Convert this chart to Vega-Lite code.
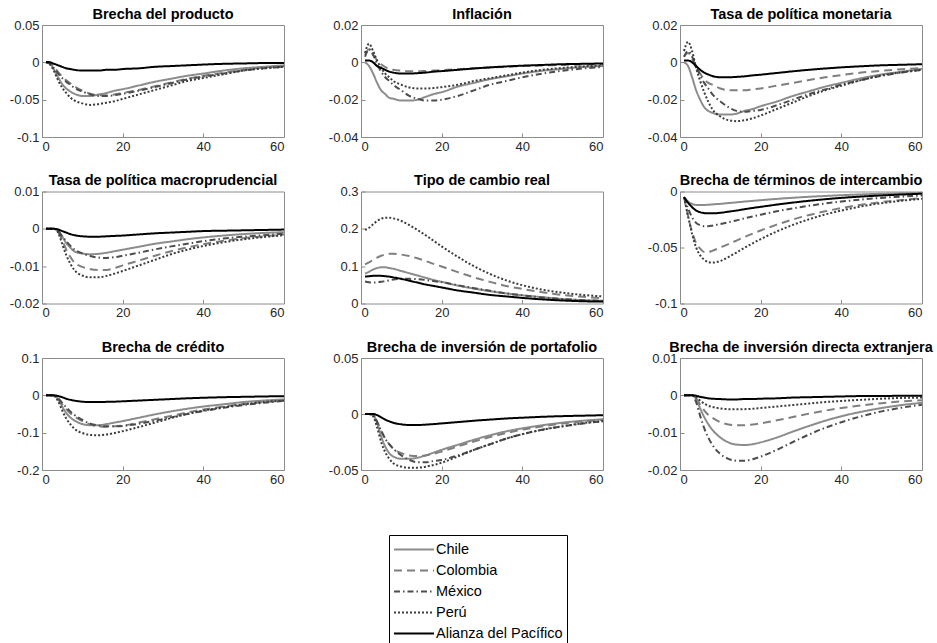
{
"$schema":"https://vega.github.io/schema/vega-lite/v6.json",
"padding":{"left":8,"top":6,"right":2,"bottom":0},
"background":"white",
"datasets":{"d":[
{"p":1,"t":1,"Chile":0,"Colombia":0,"México":0,"Perú":0,"Alianza del Pacífico":0.0005},
{"p":1,"t":2,"Chile":-0.002,"Colombia":-0.001,"México":-0.002,"Perú":-0.003,"Alianza del Pacífico":0},
{"p":1,"t":3,"Chile":-0.01,"Colombia":-0.006,"México":-0.008,"Perú":-0.012,"Alianza del Pacífico":-0.002},
{"p":1,"t":4,"Chile":-0.02,"Colombia":-0.013,"México":-0.015,"Perú":-0.024,"Alianza del Pacífico":-0.004},
{"p":1,"t":5,"Chile":-0.029,"Colombia":-0.019,"México":-0.021,"Perú":-0.034,"Alianza del Pacífico":-0.006},
{"p":1,"t":6,"Chile":-0.035,"Colombia":-0.024,"México":-0.026,"Perú":-0.041,"Alianza del Pacífico":-0.008},
{"p":1,"t":7,"Chile":-0.039,"Colombia":-0.028,"México":-0.03,"Perú":-0.047,"Alianza del Pacífico":-0.009},
{"p":1,"t":8,"Chile":-0.042,"Colombia":-0.032,"México":-0.034,"Perú":-0.051,"Alianza del Pacífico":-0.01},
{"p":1,"t":10,"Chile":-0.045,"Colombia":-0.038,"México":-0.039,"Perú":-0.055,"Alianza del Pacífico":-0.011},
{"p":1,"t":12,"Chile":-0.045,"Colombia":-0.042,"México":-0.043,"Perú":-0.057,"Alianza del Pacífico":-0.011},
{"p":1,"t":14,"Chile":-0.043,"Colombia":-0.044,"México":-0.045,"Perú":-0.056,"Alianza del Pacífico":-0.011},
{"p":1,"t":16,"Chile":-0.041,"Colombia":-0.044,"México":-0.045,"Perú":-0.054,"Alianza del Pacífico":-0.01},
{"p":1,"t":18,"Chile":-0.038,"Colombia":-0.043,"México":-0.044,"Perú":-0.052,"Alianza del Pacífico":-0.01},
{"p":1,"t":20,"Chile":-0.036,"Colombia":-0.041,"México":-0.042,"Perú":-0.049,"Alianza del Pacífico":-0.009},
{"p":1,"t":24,"Chile":-0.031,"Colombia":-0.037,"México":-0.038,"Perú":-0.043,"Alianza del Pacífico":-0.008},
{"p":1,"t":28,"Chile":-0.026,"Colombia":-0.032,"México":-0.033,"Perú":-0.037,"Alianza del Pacífico":-0.006},
{"p":1,"t":32,"Chile":-0.022,"Colombia":-0.027,"México":-0.028,"Perú":-0.031,"Alianza del Pacífico":-0.005},
{"p":1,"t":36,"Chile":-0.018,"Colombia":-0.022,"México":-0.023,"Perú":-0.025,"Alianza del Pacífico":-0.004},
{"p":1,"t":40,"Chile":-0.015,"Colombia":-0.018,"México":-0.019,"Perú":-0.021,"Alianza del Pacífico":-0.003},
{"p":1,"t":45,"Chile":-0.011,"Colombia":-0.014,"México":-0.015,"Perú":-0.016,"Alianza del Pacífico":-0.002},
{"p":1,"t":50,"Chile":-0.008,"Colombia":-0.01,"México":-0.011,"Perú":-0.011,"Alianza del Pacífico":-0.0015},
{"p":1,"t":55,"Chile":-0.006,"Colombia":-0.007,"México":-0.008,"Perú":-0.008,"Alianza del Pacífico":-0.001},
{"p":1,"t":60,"Chile":-0.004,"Colombia":-0.005,"México":-0.006,"Perú":-0.006,"Alianza del Pacífico":-0.001},
{"p":2,"t":1,"Chile":0,"Colombia":0.004,"México":0.003,"Perú":0.005,"Alianza del Pacífico":0.001},
{"p":2,"t":2,"Chile":-0.002,"Colombia":0.007,"México":0.007,"Perú":0.01,"Alianza del Pacífico":0.001},
{"p":2,"t":3,"Chile":-0.006,"Colombia":0.004,"México":0.004,"Perú":0.006,"Alianza del Pacífico":0},
{"p":2,"t":4,"Chile":-0.011,"Colombia":0.001,"México":-0.001,"Perú":0.001,"Alianza del Pacífico":-0.002},
{"p":2,"t":5,"Chile":-0.015,"Colombia":-0.001,"México":-0.005,"Perú":-0.003,"Alianza del Pacífico":-0.003},
{"p":2,"t":6,"Chile":-0.017,"Colombia":-0.0025,"México":-0.008,"Perú":-0.006,"Alianza del Pacífico":-0.004},
{"p":2,"t":7,"Chile":-0.019,"Colombia":-0.0035,"México":-0.01,"Perú":-0.008,"Alianza del Pacífico":-0.005},
{"p":2,"t":8,"Chile":-0.0195,"Colombia":-0.004,"México":-0.012,"Perú":-0.01,"Alianza del Pacífico":-0.0055},
{"p":2,"t":10,"Chile":-0.0205,"Colombia":-0.0045,"México":-0.015,"Perú":-0.012,"Alianza del Pacífico":-0.006},
{"p":2,"t":12,"Chile":-0.0205,"Colombia":-0.0048,"México":-0.018,"Perú":-0.0135,"Alianza del Pacífico":-0.006},
{"p":2,"t":14,"Chile":-0.02,"Colombia":-0.0048,"México":-0.0195,"Perú":-0.014,"Alianza del Pacífico":-0.0058},
{"p":2,"t":16,"Chile":-0.0185,"Colombia":-0.0046,"México":-0.0205,"Perú":-0.014,"Alianza del Pacífico":-0.0055},
{"p":2,"t":18,"Chile":-0.017,"Colombia":-0.0044,"México":-0.0205,"Perú":-0.0138,"Alianza del Pacífico":-0.005},
{"p":2,"t":20,"Chile":-0.016,"Colombia":-0.0042,"México":-0.02,"Perú":-0.0133,"Alianza del Pacífico":-0.0047},
{"p":2,"t":24,"Chile":-0.013,"Colombia":-0.0037,"México":-0.018,"Perú":-0.012,"Alianza del Pacífico":-0.004},
{"p":2,"t":28,"Chile":-0.011,"Colombia":-0.0032,"México":-0.015,"Perú":-0.01,"Alianza del Pacífico":-0.0033},
{"p":2,"t":32,"Chile":-0.009,"Colombia":-0.0028,"México":-0.012,"Perú":-0.0085,"Alianza del Pacífico":-0.0027},
{"p":2,"t":36,"Chile":-0.0075,"Colombia":-0.0024,"México":-0.01,"Perú":-0.007,"Alianza del Pacífico":-0.0022},
{"p":2,"t":40,"Chile":-0.006,"Colombia":-0.002,"México":-0.008,"Perú":-0.0055,"Alianza del Pacífico":-0.0018},
{"p":2,"t":45,"Chile":-0.0045,"Colombia":-0.0017,"México":-0.006,"Perú":-0.004,"Alianza del Pacífico":-0.0014},
{"p":2,"t":50,"Chile":-0.0035,"Colombia":-0.0014,"México":-0.0045,"Perú":-0.003,"Alianza del Pacífico":-0.001},
{"p":2,"t":55,"Chile":-0.0025,"Colombia":-0.0012,"México":-0.0033,"Perú":-0.0022,"Alianza del Pacífico":-0.0008},
{"p":2,"t":60,"Chile":-0.002,"Colombia":-0.001,"México":-0.0025,"Perú":-0.0017,"Alianza del Pacífico":-0.0006},
{"p":3,"t":1,"Chile":0,"Colombia":0.003,"México":0.003,"Perú":0.006,"Alianza del Pacífico":0.001},
{"p":3,"t":2,"Chile":-0.002,"Colombia":0.005,"México":0.006,"Perú":0.011,"Alianza del Pacífico":0.001},
{"p":3,"t":3,"Chile":-0.008,"Colombia":0.002,"México":0.003,"Perú":0.006,"Alianza del Pacífico":0},
{"p":3,"t":4,"Chile":-0.015,"Colombia":-0.003,"México":-0.002,"Perú":-0.003,"Alianza del Pacífico":-0.002},
{"p":3,"t":5,"Chile":-0.02,"Colombia":-0.006,"México":-0.007,"Perú":-0.01,"Alianza del Pacífico":-0.004},
{"p":3,"t":6,"Chile":-0.024,"Colombia":-0.009,"México":-0.011,"Perú":-0.016,"Alianza del Pacífico":-0.0055},
{"p":3,"t":7,"Chile":-0.026,"Colombia":-0.011,"México":-0.014,"Perú":-0.021,"Alianza del Pacífico":-0.0065},
{"p":3,"t":8,"Chile":-0.027,"Colombia":-0.012,"México":-0.017,"Perú":-0.025,"Alianza del Pacífico":-0.0073},
{"p":3,"t":10,"Chile":-0.028,"Colombia":-0.014,"México":-0.021,"Perú":-0.029,"Alianza del Pacífico":-0.008},
{"p":3,"t":12,"Chile":-0.028,"Colombia":-0.015,"México":-0.024,"Perú":-0.031,"Alianza del Pacífico":-0.008},
{"p":3,"t":14,"Chile":-0.0275,"Colombia":-0.015,"México":-0.026,"Perú":-0.0315,"Alianza del Pacífico":-0.0078},
{"p":3,"t":16,"Chile":-0.026,"Colombia":-0.015,"México":-0.0265,"Perú":-0.031,"Alianza del Pacífico":-0.0075},
{"p":3,"t":18,"Chile":-0.025,"Colombia":-0.0145,"México":-0.026,"Perú":-0.03,"Alianza del Pacífico":-0.007},
{"p":3,"t":20,"Chile":-0.0235,"Colombia":-0.014,"México":-0.0255,"Perú":-0.0285,"Alianza del Pacífico":-0.0066},
{"p":3,"t":24,"Chile":-0.021,"Colombia":-0.0125,"México":-0.023,"Perú":-0.025,"Alianza del Pacífico":-0.0057},
{"p":3,"t":28,"Chile":-0.018,"Colombia":-0.011,"México":-0.02,"Perú":-0.0215,"Alianza del Pacífico":-0.0048},
{"p":3,"t":32,"Chile":-0.0155,"Colombia":-0.0095,"México":-0.017,"Perú":-0.018,"Alianza del Pacífico":-0.004},
{"p":3,"t":36,"Chile":-0.013,"Colombia":-0.008,"México":-0.0145,"Perú":-0.015,"Alianza del Pacífico":-0.0033},
{"p":3,"t":40,"Chile":-0.011,"Colombia":-0.0068,"México":-0.012,"Perú":-0.0125,"Alianza del Pacífico":-0.0027},
{"p":3,"t":45,"Chile":-0.0085,"Colombia":-0.0055,"México":-0.0095,"Perú":-0.0095,"Alianza del Pacífico":-0.0021},
{"p":3,"t":50,"Chile":-0.0065,"Colombia":-0.0045,"México":-0.0072,"Perú":-0.007,"Alianza del Pacífico":-0.0016},
{"p":3,"t":55,"Chile":-0.005,"Colombia":-0.0037,"México":-0.0055,"Perú":-0.0053,"Alianza del Pacífico":-0.0013},
{"p":3,"t":60,"Chile":-0.0035,"Colombia":-0.003,"México":-0.004,"Perú":-0.004,"Alianza del Pacífico":-0.001},
{"p":4,"t":1,"Chile":0,"Colombia":0,"México":0,"Perú":0,"Alianza del Pacífico":0},
{"p":4,"t":2,"Chile":0,"Colombia":0,"México":0,"Perú":0,"Alianza del Pacífico":0},
{"p":4,"t":3,"Chile":0,"Colombia":0,"México":0,"Perú":0,"Alianza del Pacífico":0},
{"p":4,"t":4,"Chile":-0.0005,"Colombia":-0.0008,"México":-0.0006,"Perú":-0.001,"Alianza del Pacífico":-0.0002},
{"p":4,"t":5,"Chile":-0.002,"Colombia":-0.003,"México":-0.002,"Perú":-0.004,"Alianza del Pacífico":-0.0006},
{"p":4,"t":6,"Chile":-0.0038,"Colombia":-0.0055,"México":-0.0033,"Perú":-0.007,"Alianza del Pacífico":-0.001},
{"p":4,"t":7,"Chile":-0.005,"Colombia":-0.0075,"México":-0.0045,"Perú":-0.0093,"Alianza del Pacífico":-0.0014},
{"p":4,"t":8,"Chile":-0.006,"Colombia":-0.009,"México":-0.0055,"Perú":-0.011,"Alianza del Pacífico":-0.0017},
{"p":4,"t":10,"Chile":-0.0066,"Colombia":-0.0102,"México":-0.0066,"Perú":-0.0125,"Alianza del Pacífico":-0.002},
{"p":4,"t":12,"Chile":-0.0068,"Colombia":-0.0108,"México":-0.0073,"Perú":-0.013,"Alianza del Pacífico":-0.0021},
{"p":4,"t":14,"Chile":-0.0067,"Colombia":-0.011,"México":-0.0077,"Perú":-0.013,"Alianza del Pacífico":-0.0021},
{"p":4,"t":16,"Chile":-0.0064,"Colombia":-0.011,"México":-0.0078,"Perú":-0.0126,"Alianza del Pacífico":-0.002},
{"p":4,"t":18,"Chile":-0.006,"Colombia":-0.0105,"México":-0.0076,"Perú":-0.012,"Alianza del Pacífico":-0.0019},
{"p":4,"t":20,"Chile":-0.0056,"Colombia":-0.0098,"México":-0.0072,"Perú":-0.0113,"Alianza del Pacífico":-0.0018},
{"p":4,"t":24,"Chile":-0.0048,"Colombia":-0.0085,"México":-0.0064,"Perú":-0.0098,"Alianza del Pacífico":-0.0015},
{"p":4,"t":28,"Chile":-0.004,"Colombia":-0.0072,"México":-0.0055,"Perú":-0.0083,"Alianza del Pacífico":-0.0012},
{"p":4,"t":32,"Chile":-0.0034,"Colombia":-0.006,"México":-0.0047,"Perú":-0.0068,"Alianza del Pacífico":-0.001},
{"p":4,"t":36,"Chile":-0.0028,"Colombia":-0.005,"México":-0.004,"Perú":-0.0056,"Alianza del Pacífico":-0.0008},
{"p":4,"t":40,"Chile":-0.0023,"Colombia":-0.0041,"México":-0.0033,"Perú":-0.0046,"Alianza del Pacífico":-0.0006},
{"p":4,"t":45,"Chile":-0.0018,"Colombia":-0.0032,"México":-0.0026,"Perú":-0.0036,"Alianza del Pacífico":-0.0005},
{"p":4,"t":50,"Chile":-0.0014,"Colombia":-0.0025,"México":-0.0021,"Perú":-0.0028,"Alianza del Pacífico":-0.0004},
{"p":4,"t":55,"Chile":-0.0011,"Colombia":-0.002,"México":-0.0017,"Perú":-0.0022,"Alianza del Pacífico":-0.0003},
{"p":4,"t":60,"Chile":-0.0009,"Colombia":-0.0015,"México":-0.0013,"Perú":-0.0017,"Alianza del Pacífico":-0.0002},
{"p":5,"t":1,"Chile":0.08,"Colombia":0.105,"México":0.059,"Perú":0.197,"Alianza del Pacífico":0.072},
{"p":5,"t":2,"Chile":0.085,"Colombia":0.11,"México":0.057,"Perú":0.203,"Alianza del Pacífico":0.073},
{"p":5,"t":3,"Chile":0.091,"Colombia":0.117,"México":0.056,"Perú":0.212,"Alianza del Pacífico":0.074},
{"p":5,"t":4,"Chile":0.095,"Colombia":0.123,"México":0.057,"Perú":0.221,"Alianza del Pacífico":0.074},
{"p":5,"t":5,"Chile":0.097,"Colombia":0.128,"México":0.058,"Perú":0.227,"Alianza del Pacífico":0.074},
{"p":5,"t":6,"Chile":0.097,"Colombia":0.131,"México":0.06,"Perú":0.23,"Alianza del Pacífico":0.073},
{"p":5,"t":7,"Chile":0.095,"Colombia":0.133,"México":0.062,"Perú":0.23,"Alianza del Pacífico":0.072},
{"p":5,"t":8,"Chile":0.093,"Colombia":0.133,"México":0.064,"Perú":0.228,"Alianza del Pacífico":0.07},
{"p":5,"t":10,"Chile":0.087,"Colombia":0.131,"México":0.066,"Perú":0.221,"Alianza del Pacífico":0.066},
{"p":5,"t":12,"Chile":0.081,"Colombia":0.127,"México":0.066,"Perú":0.21,"Alianza del Pacífico":0.061},
{"p":5,"t":14,"Chile":0.075,"Colombia":0.121,"México":0.065,"Perú":0.197,"Alianza del Pacífico":0.056},
{"p":5,"t":16,"Chile":0.069,"Colombia":0.114,"México":0.063,"Perú":0.183,"Alianza del Pacífico":0.051},
{"p":5,"t":18,"Chile":0.063,"Colombia":0.106,"México":0.06,"Perú":0.168,"Alianza del Pacífico":0.047},
{"p":5,"t":20,"Chile":0.058,"Colombia":0.099,"México":0.057,"Perú":0.153,"Alianza del Pacífico":0.043},
{"p":5,"t":24,"Chile":0.048,"Colombia":0.084,"México":0.049,"Perú":0.125,"Alianza del Pacífico":0.035},
{"p":5,"t":28,"Chile":0.04,"Colombia":0.07,"México":0.041,"Perú":0.1,"Alianza del Pacífico":0.029},
{"p":5,"t":32,"Chile":0.033,"Colombia":0.058,"México":0.034,"Perú":0.079,"Alianza del Pacífico":0.023},
{"p":5,"t":36,"Chile":0.027,"Colombia":0.047,"México":0.027,"Perú":0.062,"Alianza del Pacífico":0.019},
{"p":5,"t":40,"Chile":0.022,"Colombia":0.039,"México":0.022,"Perú":0.049,"Alianza del Pacífico":0.015},
{"p":5,"t":45,"Chile":0.017,"Colombia":0.03,"México":0.016,"Perú":0.037,"Alianza del Pacífico":0.011},
{"p":5,"t":50,"Chile":0.012,"Colombia":0.023,"México":0.012,"Perú":0.029,"Alianza del Pacífico":0.008},
{"p":5,"t":55,"Chile":0.009,"Colombia":0.018,"México":0.009,"Perú":0.023,"Alianza del Pacífico":0.006},
{"p":5,"t":60,"Chile":0.007,"Colombia":0.014,"México":0.007,"Perú":0.019,"Alianza del Pacífico":0.005},
{"p":6,"t":1,"Chile":-0.005,"Colombia":-0.005,"México":-0.005,"Perú":-0.005,"Alianza del Pacífico":-0.005},
{"p":6,"t":2,"Chile":-0.009,"Colombia":-0.022,"México":-0.015,"Perú":-0.022,"Alianza del Pacífico":-0.01},
{"p":6,"t":3,"Chile":-0.011,"Colombia":-0.036,"México":-0.023,"Perú":-0.038,"Alianza del Pacífico":-0.014},
{"p":6,"t":4,"Chile":-0.012,"Colombia":-0.046,"México":-0.028,"Perú":-0.05,"Alianza del Pacífico":-0.017},
{"p":6,"t":5,"Chile":-0.012,"Colombia":-0.051,"México":-0.03,"Perú":-0.057,"Alianza del Pacífico":-0.0185},
{"p":6,"t":6,"Chile":-0.012,"Colombia":-0.054,"México":-0.031,"Perú":-0.061,"Alianza del Pacífico":-0.0193},
{"p":6,"t":7,"Chile":-0.0118,"Colombia":-0.054,"México":-0.031,"Perú":-0.063,"Alianza del Pacífico":-0.0195},
{"p":6,"t":8,"Chile":-0.0115,"Colombia":-0.053,"México":-0.0305,"Perú":-0.0635,"Alianza del Pacífico":-0.0195},
{"p":6,"t":10,"Chile":-0.011,"Colombia":-0.05,"México":-0.029,"Perú":-0.062,"Alianza del Pacífico":-0.019},
{"p":6,"t":12,"Chile":-0.0103,"Colombia":-0.047,"México":-0.0275,"Perú":-0.0585,"Alianza del Pacífico":-0.018},
{"p":6,"t":14,"Chile":-0.0097,"Colombia":-0.0438,"México":-0.0258,"Perú":-0.0545,"Alianza del Pacífico":-0.017},
{"p":6,"t":16,"Chile":-0.009,"Colombia":-0.0406,"México":-0.024,"Perú":-0.0503,"Alianza del Pacífico":-0.0158},
{"p":6,"t":18,"Chile":-0.0084,"Colombia":-0.0376,"México":-0.0223,"Perú":-0.0463,"Alianza del Pacífico":-0.0147},
{"p":6,"t":20,"Chile":-0.0078,"Colombia":-0.0348,"México":-0.0207,"Perú":-0.0425,"Alianza del Pacífico":-0.0137},
{"p":6,"t":24,"Chile":-0.0066,"Colombia":-0.0296,"México":-0.0177,"Perú":-0.0357,"Alianza del Pacífico":-0.0117},
{"p":6,"t":28,"Chile":-0.0056,"Colombia":-0.025,"México":-0.015,"Perú":-0.0298,"Alianza del Pacífico":-0.0099},
{"p":6,"t":32,"Chile":-0.0047,"Colombia":-0.021,"México":-0.0127,"Perú":-0.0248,"Alianza del Pacífico":-0.0083},
{"p":6,"t":36,"Chile":-0.004,"Colombia":-0.0177,"México":-0.0107,"Perú":-0.0205,"Alianza del Pacífico":-0.0069},
{"p":6,"t":40,"Chile":-0.0033,"Colombia":-0.0148,"México":-0.009,"Perú":-0.017,"Alianza del Pacífico":-0.0057},
{"p":6,"t":45,"Chile":-0.0026,"Colombia":-0.0118,"México":-0.0072,"Perú":-0.0133,"Alianza del Pacífico":-0.0045},
{"p":6,"t":50,"Chile":-0.002,"Colombia":-0.0094,"México":-0.0057,"Perú":-0.0104,"Alianza del Pacífico":-0.0035},
{"p":6,"t":55,"Chile":-0.0016,"Colombia":-0.0075,"México":-0.0045,"Perú":-0.0082,"Alianza del Pacífico":-0.0027},
{"p":6,"t":60,"Chile":-0.0012,"Colombia":-0.006,"México":-0.0036,"Perú":-0.0065,"Alianza del Pacífico":-0.002},
{"p":7,"t":1,"Chile":0,"Colombia":0,"México":0,"Perú":0,"Alianza del Pacífico":0},
{"p":7,"t":2,"Chile":0,"Colombia":0,"México":0,"Perú":0,"Alianza del Pacífico":0},
{"p":7,"t":3,"Chile":-0.001,"Colombia":-0.001,"México":-0.001,"Perú":-0.002,"Alianza del Pacífico":0},
{"p":7,"t":4,"Chile":-0.01,"Colombia":-0.01,"México":-0.008,"Perú":-0.016,"Alianza del Pacífico":-0.002},
{"p":7,"t":5,"Chile":-0.03,"Colombia":-0.024,"México":-0.02,"Perú":-0.04,"Alianza del Pacífico":-0.005},
{"p":7,"t":6,"Chile":-0.047,"Colombia":-0.037,"México":-0.032,"Perú":-0.062,"Alianza del Pacífico":-0.009},
{"p":7,"t":7,"Chile":-0.059,"Colombia":-0.048,"México":-0.043,"Perú":-0.077,"Alianza del Pacífico":-0.012},
{"p":7,"t":8,"Chile":-0.067,"Colombia":-0.056,"México":-0.052,"Perú":-0.089,"Alianza del Pacífico":-0.014},
{"p":7,"t":10,"Chile":-0.077,"Colombia":-0.069,"México":-0.066,"Perú":-0.101,"Alianza del Pacífico":-0.017},
{"p":7,"t":12,"Chile":-0.08,"Colombia":-0.078,"México":-0.076,"Perú":-0.106,"Alianza del Pacífico":-0.018},
{"p":7,"t":14,"Chile":-0.08,"Colombia":-0.083,"México":-0.081,"Perú":-0.107,"Alianza del Pacífico":-0.018},
{"p":7,"t":16,"Chile":-0.077,"Colombia":-0.084,"México":-0.083,"Perú":-0.105,"Alianza del Pacífico":-0.0175},
{"p":7,"t":18,"Chile":-0.073,"Colombia":-0.083,"México":-0.083,"Perú":-0.101,"Alianza del Pacífico":-0.017},
{"p":7,"t":20,"Chile":-0.069,"Colombia":-0.081,"México":-0.082,"Perú":-0.096,"Alianza del Pacífico":-0.016},
{"p":7,"t":24,"Chile":-0.06,"Colombia":-0.073,"México":-0.076,"Perú":-0.085,"Alianza del Pacífico":-0.014},
{"p":7,"t":28,"Chile":-0.051,"Colombia":-0.064,"México":-0.068,"Perú":-0.073,"Alianza del Pacífico":-0.012},
{"p":7,"t":32,"Chile":-0.043,"Colombia":-0.055,"México":-0.059,"Perú":-0.061,"Alianza del Pacífico":-0.01},
{"p":7,"t":36,"Chile":-0.036,"Colombia":-0.046,"México":-0.05,"Perú":-0.05,"Alianza del Pacífico":-0.008},
{"p":7,"t":40,"Chile":-0.03,"Colombia":-0.038,"México":-0.042,"Perú":-0.041,"Alianza del Pacífico":-0.0065},
{"p":7,"t":45,"Chile":-0.024,"Colombia":-0.03,"México":-0.033,"Perú":-0.032,"Alianza del Pacífico":-0.005},
{"p":7,"t":50,"Chile":-0.018,"Colombia":-0.023,"México":-0.026,"Perú":-0.024,"Alianza del Pacífico":-0.004},
{"p":7,"t":55,"Chile":-0.014,"Colombia":-0.018,"México":-0.02,"Perú":-0.018,"Alianza del Pacífico":-0.003},
{"p":7,"t":60,"Chile":-0.011,"Colombia":-0.014,"México":-0.015,"Perú":-0.014,"Alianza del Pacífico":-0.0022},
{"p":8,"t":1,"Chile":0,"Colombia":0,"México":0,"Perú":0,"Alianza del Pacífico":0},
{"p":8,"t":2,"Chile":0,"Colombia":0,"México":0,"Perú":0,"Alianza del Pacífico":0},
{"p":8,"t":3,"Chile":-0.001,"Colombia":-0.001,"México":-0.001,"Perú":-0.002,"Alianza del Pacífico":0},
{"p":8,"t":4,"Chile":-0.008,"Colombia":-0.007,"México":-0.007,"Perú":-0.012,"Alianza del Pacífico":-0.001},
{"p":8,"t":5,"Chile":-0.02,"Colombia":-0.015,"México":-0.015,"Perú":-0.025,"Alianza del Pacífico":-0.003},
{"p":8,"t":6,"Chile":-0.029,"Colombia":-0.022,"México":-0.022,"Perú":-0.034,"Alianza del Pacífico":-0.005},
{"p":8,"t":7,"Chile":-0.035,"Colombia":-0.027,"México":-0.027,"Perú":-0.04,"Alianza del Pacífico":-0.0065},
{"p":8,"t":8,"Chile":-0.038,"Colombia":-0.031,"México":-0.031,"Perú":-0.044,"Alianza del Pacífico":-0.0078},
{"p":8,"t":10,"Chile":-0.04,"Colombia":-0.035,"México":-0.037,"Perú":-0.047,"Alianza del Pacífico":-0.0092},
{"p":8,"t":12,"Chile":-0.04,"Colombia":-0.037,"México":-0.041,"Perú":-0.048,"Alianza del Pacífico":-0.0098},
{"p":8,"t":14,"Chile":-0.039,"Colombia":-0.0375,"México":-0.043,"Perú":-0.048,"Alianza del Pacífico":-0.0098},
{"p":8,"t":16,"Chile":-0.037,"Colombia":-0.037,"México":-0.043,"Perú":-0.047,"Alianza del Pacífico":-0.0095},
{"p":8,"t":18,"Chile":-0.0345,"Colombia":-0.0355,"México":-0.042,"Perú":-0.0455,"Alianza del Pacífico":-0.009},
{"p":8,"t":20,"Chile":-0.032,"Colombia":-0.0335,"México":-0.041,"Perú":-0.0435,"Alianza del Pacífico":-0.0084},
{"p":8,"t":24,"Chile":-0.0275,"Colombia":-0.029,"México":-0.037,"Perú":-0.038,"Alianza del Pacífico":-0.0072},
{"p":8,"t":28,"Chile":-0.023,"Colombia":-0.0245,"México":-0.032,"Perú":-0.032,"Alianza del Pacífico":-0.006},
{"p":8,"t":32,"Chile":-0.019,"Colombia":-0.0205,"México":-0.027,"Perú":-0.027,"Alianza del Pacífico":-0.005},
{"p":8,"t":36,"Chile":-0.0155,"Colombia":-0.017,"México":-0.022,"Perú":-0.022,"Alianza del Pacífico":-0.004},
{"p":8,"t":40,"Chile":-0.0128,"Colombia":-0.014,"México":-0.018,"Perú":-0.018,"Alianza del Pacífico":-0.0033},
{"p":8,"t":45,"Chile":-0.01,"Colombia":-0.011,"México":-0.014,"Perú":-0.014,"Alianza del Pacífico":-0.0025},
{"p":8,"t":50,"Chile":-0.0077,"Colombia":-0.0085,"México":-0.011,"Perú":-0.011,"Alianza del Pacífico":-0.0019},
{"p":8,"t":55,"Chile":-0.006,"Colombia":-0.0066,"México":-0.0085,"Perú":-0.0082,"Alianza del Pacífico":-0.0015},
{"p":8,"t":60,"Chile":-0.0047,"Colombia":-0.0052,"México":-0.0065,"Perú":-0.0063,"Alianza del Pacífico":-0.0011},
{"p":9,"t":1,"Chile":0,"Colombia":0,"México":0,"Perú":0,"Alianza del Pacífico":0},
{"p":9,"t":2,"Chile":0,"Colombia":0,"México":0,"Perú":0,"Alianza del Pacífico":0},
{"p":9,"t":3,"Chile":0,"Colombia":0,"México":0,"Perú":0,"Alianza del Pacífico":0},
{"p":9,"t":4,"Chile":-0.001,"Colombia":-0.0008,"México":-0.0018,"Perú":-0.0005,"Alianza del Pacífico":-0.0001},
{"p":9,"t":5,"Chile":-0.0035,"Colombia":-0.0025,"México":-0.0055,"Perú":-0.0014,"Alianza del Pacífico":-0.0004},
{"p":9,"t":6,"Chile":-0.0058,"Colombia":-0.004,"México":-0.0088,"Perú":-0.0022,"Alianza del Pacífico":-0.0006},
{"p":9,"t":7,"Chile":-0.0077,"Colombia":-0.0052,"México":-0.0113,"Perú":-0.0028,"Alianza del Pacífico":-0.0008},
{"p":9,"t":8,"Chile":-0.0092,"Colombia":-0.006,"México":-0.0132,"Perú":-0.0031,"Alianza del Pacífico":-0.0009},
{"p":9,"t":10,"Chile":-0.0113,"Colombia":-0.0072,"México":-0.0157,"Perú":-0.0035,"Alianza del Pacífico":-0.001},
{"p":9,"t":12,"Chile":-0.0126,"Colombia":-0.0078,"México":-0.017,"Perú":-0.0037,"Alianza del Pacífico":-0.0011},
{"p":9,"t":14,"Chile":-0.0132,"Colombia":-0.008,"México":-0.0175,"Perú":-0.0037,"Alianza del Pacífico":-0.0011},
{"p":9,"t":16,"Chile":-0.0133,"Colombia":-0.008,"México":-0.0175,"Perú":-0.0037,"Alianza del Pacífico":-0.001},
{"p":9,"t":18,"Chile":-0.0131,"Colombia":-0.0078,"México":-0.0171,"Perú":-0.0036,"Alianza del Pacífico":-0.001},
{"p":9,"t":20,"Chile":-0.0126,"Colombia":-0.0075,"México":-0.0164,"Perú":-0.0034,"Alianza del Pacífico":-0.0009},
{"p":9,"t":24,"Chile":-0.0113,"Colombia":-0.0067,"México":-0.0146,"Perú":-0.003,"Alianza del Pacífico":-0.0008},
{"p":9,"t":28,"Chile":-0.0097,"Colombia":-0.0058,"México":-0.0125,"Perú":-0.0026,"Alianza del Pacífico":-0.0006},
{"p":9,"t":32,"Chile":-0.0082,"Colombia":-0.0049,"México":-0.0105,"Perú":-0.0022,"Alianza del Pacífico":-0.0005},
{"p":9,"t":36,"Chile":-0.0068,"Colombia":-0.0041,"México":-0.0087,"Perú":-0.0018,"Alianza del Pacífico":-0.0004},
{"p":9,"t":40,"Chile":-0.0056,"Colombia":-0.0034,"México":-0.0072,"Perú":-0.0015,"Alianza del Pacífico":-0.0003},
{"p":9,"t":45,"Chile":-0.0044,"Colombia":-0.0027,"México":-0.0056,"Perú":-0.0012,"Alianza del Pacífico":-0.0002},
{"p":9,"t":50,"Chile":-0.0034,"Colombia":-0.0021,"México":-0.0043,"Perú":-0.0009,"Alianza del Pacífico":-0.0002},
{"p":9,"t":55,"Chile":-0.0026,"Colombia":-0.0016,"México":-0.0033,"Perú":-0.0007,"Alianza del Pacífico":-0.0001},
{"p":9,"t":60,"Chile":-0.002,"Colombia":-0.0013,"México":-0.0025,"Perú":-0.0006,"Alianza del Pacífico":-0.0001}
]},
"data":{"name":"d"},
"transform":[{"fold":["Chile","Colombia","México","Perú","Alianza del Pacífico"],"as":["s","y"]}],
"columns":3,
"spacing":{"row":54.5,"column":77},
"bounds":"flush",
"resolve":{"scale":{"y":"independent"}},
"concat":[
{"title":"Brecha del producto","width":242,"height":112,"transform":[{"filter":"datum.p==1"}],"mark":{"type":"line","interpolate":"monotone"},
 "encoding":{"x":{"field":"t","type":"quantitative","scale":{"domain":[0,60]},"axis":{"title":null,"values":[0,20,40,60]}},
 "y":{"field":"y","type":"quantitative","scale":{"domain":[-0.1,0.05]},"axis":{"title":null,"values":[-0.1,-0.05,0,0.05]}},
 "color":{"field":"s","type":"nominal","scale":{"domain":["Chile","Colombia","México","Perú","Alianza del Pacífico"],"range":["#8c8c8c","#7f7f7f","#4d4d4d","#3c3c3c","#000000"]},"legend":{"title":null}},
 "strokeDash":{"field":"s","type":"nominal","scale":{"domain":["Chile","Colombia","México","Perú","Alianza del Pacífico"],"range":[[1,0],[8,5],[6,3,1.5,3],[2,2],[1,0]]},"legend":{"title":null}},
 "strokeWidth":{"field":"s","type":"nominal","scale":{"domain":["Chile","Colombia","México","Perú","Alianza del Pacífico"],"range":[2,2,2,2,4]},"legend":{"title":null}}}},
{"title":"Inflación","width":242,"height":112,"transform":[{"filter":"datum.p==2"}],"mark":{"type":"line","interpolate":"monotone"},
 "encoding":{"x":{"field":"t","type":"quantitative","scale":{"domain":[0,60]},"axis":{"title":null,"values":[0,20,40,60]}},
 "y":{"field":"y","type":"quantitative","scale":{"domain":[-0.04,0.02]},"axis":{"title":null,"values":[-0.04,-0.02,0,0.02]}},
 "color":{"field":"s","type":"nominal","legend":{"title":null}},
 "strokeDash":{"field":"s","type":"nominal","legend":{"title":null}},
 "strokeWidth":{"field":"s","type":"nominal","legend":{"title":null}}}},
{"title":"Tasa de política monetaria","width":242,"height":112,"transform":[{"filter":"datum.p==3"}],"mark":{"type":"line","interpolate":"monotone"},
 "encoding":{"x":{"field":"t","type":"quantitative","scale":{"domain":[0,60]},"axis":{"title":null,"values":[0,20,40,60]}},
 "y":{"field":"y","type":"quantitative","scale":{"domain":[-0.04,0.02]},"axis":{"title":null,"values":[-0.04,-0.02,0,0.02]}},
 "color":{"field":"s","type":"nominal","legend":{"title":null}},
 "strokeDash":{"field":"s","type":"nominal","legend":{"title":null}},
 "strokeWidth":{"field":"s","type":"nominal","legend":{"title":null}}}},
{"title":"Tasa de política macroprudencial","width":242,"height":112,"transform":[{"filter":"datum.p==4"}],"mark":{"type":"line","interpolate":"monotone"},
 "encoding":{"x":{"field":"t","type":"quantitative","scale":{"domain":[0,60]},"axis":{"title":null,"values":[0,20,40,60]}},
 "y":{"field":"y","type":"quantitative","scale":{"domain":[-0.02,0.01]},"axis":{"title":null,"values":[-0.02,-0.01,0,0.01]}},
 "color":{"field":"s","type":"nominal","legend":{"title":null}},
 "strokeDash":{"field":"s","type":"nominal","legend":{"title":null}},
 "strokeWidth":{"field":"s","type":"nominal","legend":{"title":null}}}},
{"title":"Tipo de cambio real","width":242,"height":112,"transform":[{"filter":"datum.p==5"}],"mark":{"type":"line","interpolate":"monotone"},
 "encoding":{"x":{"field":"t","type":"quantitative","scale":{"domain":[0,60]},"axis":{"title":null,"values":[0,20,40,60]}},
 "y":{"field":"y","type":"quantitative","scale":{"domain":[0,0.3]},"axis":{"title":null,"values":[0,0.1,0.2,0.3]}},
 "color":{"field":"s","type":"nominal","legend":{"title":null}},
 "strokeDash":{"field":"s","type":"nominal","legend":{"title":null}},
 "strokeWidth":{"field":"s","type":"nominal","legend":{"title":null}}}},
{"title":"Brecha de términos de intercambio","width":242,"height":112,"transform":[{"filter":"datum.p==6"}],"mark":{"type":"line","interpolate":"monotone"},
 "encoding":{"x":{"field":"t","type":"quantitative","scale":{"domain":[0,60]},"axis":{"title":null,"values":[0,20,40,60]}},
 "y":{"field":"y","type":"quantitative","scale":{"domain":[-0.1,0]},"axis":{"title":null,"values":[-0.1,-0.05,0]}},
 "color":{"field":"s","type":"nominal","legend":{"title":null}},
 "strokeDash":{"field":"s","type":"nominal","legend":{"title":null}},
 "strokeWidth":{"field":"s","type":"nominal","legend":{"title":null}}}},
{"title":"Brecha de crédito","width":242,"height":112,"transform":[{"filter":"datum.p==7"}],"mark":{"type":"line","interpolate":"monotone"},
 "encoding":{"x":{"field":"t","type":"quantitative","scale":{"domain":[0,60]},"axis":{"title":null,"values":[0,20,40,60]}},
 "y":{"field":"y","type":"quantitative","scale":{"domain":[-0.2,0.1]},"axis":{"title":null,"values":[-0.2,-0.1,0,0.1]}},
 "color":{"field":"s","type":"nominal","legend":{"title":null}},
 "strokeDash":{"field":"s","type":"nominal","legend":{"title":null}},
 "strokeWidth":{"field":"s","type":"nominal","legend":{"title":null}}}},
{"title":"Brecha de inversión de portafolio","width":242,"height":112,"transform":[{"filter":"datum.p==8"}],"mark":{"type":"line","interpolate":"monotone"},
 "encoding":{"x":{"field":"t","type":"quantitative","scale":{"domain":[0,60]},"axis":{"title":null,"values":[0,20,40,60]}},
 "y":{"field":"y","type":"quantitative","scale":{"domain":[-0.05,0.05]},"axis":{"title":null,"values":[-0.05,0,0.05]}},
 "color":{"field":"s","type":"nominal","legend":{"title":null}},
 "strokeDash":{"field":"s","type":"nominal","legend":{"title":null}},
 "strokeWidth":{"field":"s","type":"nominal","legend":{"title":null}}}},
{"title":"Brecha de inversión directa extranjera","width":242,"height":112,"transform":[{"filter":"datum.p==9"}],"mark":{"type":"line","interpolate":"monotone"},
 "encoding":{"x":{"field":"t","type":"quantitative","scale":{"domain":[0,60]},"axis":{"title":null,"values":[0,20,40,60]}},
 "y":{"field":"y","type":"quantitative","scale":{"domain":[-0.02,0.01]},"axis":{"title":null,"values":[-0.02,-0.01,0,0.01]}},
 "color":{"field":"s","type":"nominal","legend":{"title":null}},
 "strokeDash":{"field":"s","type":"nominal","legend":{"title":null}},
 "strokeWidth":{"field":"s","type":"nominal","legend":{"title":null}}}}
],
"config":{
 "font":"Liberation Sans",
 "locale":{"number":{"decimal":".","thousands":",","grouping":[3],"currency":["$",""],"minus":"-"}},
 "view":{"stroke":"#8c8c8c","strokeWidth":1},
 "axis":{"grid":false,"domain":false,"labelFontSize":13,"labelColor":"#262626","tickColor":"#8c8c8c","tickSize":-4,"labelPadding":7},
 "axisX":{"format":"d"},
 "axisY":{"format":"~g"},
 "title":{"fontSize":14.5,"fontWeight":"bold","color":"#000000","offset":-3,"anchor":"middle","frame":"group"},
 "legend":{"orient":"none","legendX":347,"legendY":510,"direction":"vertical","strokeColor":"#000000","fillColor":"#ffffff","padding":4,"labelFontSize":14.5,"labelColor":"#000000","symbolType":"stroke","symbolSize":1600,"labelOffset":1,"rowPadding":0,"clipHeight":21,"symbolStrokeColor":"#000000"}
}
}
